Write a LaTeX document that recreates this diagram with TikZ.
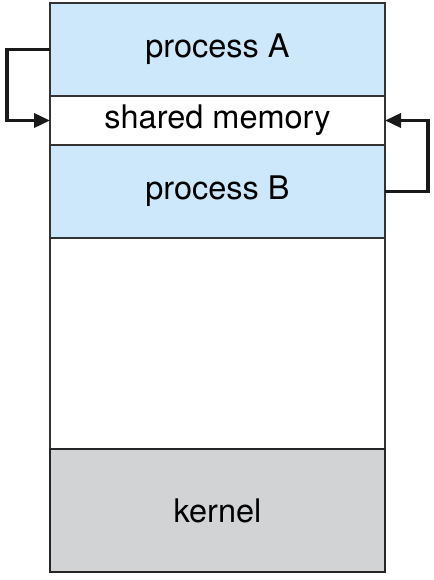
\documentclass[tikz,border=0pt]{standalone}
\usepackage{fontspec}
\setmainfont{TeX Gyre Heros}
\usetikzlibrary{arrows.meta, positioning}
\definecolor{procblue}{RGB}{205,232,250}
\definecolor{kernelgray}{RGB}{210,211,213}

\begin{document}
\begin{tikzpicture}[x=1pt, y=-1pt,
    region/.style={draw=black!80, line width=1.2pt, minimum width=335pt,
      inner sep=0pt, outer sep=0pt, font=\fontsize{32.5}{36}\selectfont},
    conn/.style={line width=3.6pt, draw=black!90, -{Triangle[length=16pt,width=14pt]}}]
  \useasboundingbox (0,0) rectangle (433,580);

  % Nodes
  \node[region, fill=procblue, minimum height=93pt, anchor=north west] (procA) at (50,3) {process A};
  \node[region, minimum height=49pt, below=0pt of procA] (shm) {shared memory};
  \node[region, fill=procblue, minimum height=93pt, below=0pt of shm] (procB) {process B};
  \node[region, minimum height=211pt, below=0pt of procB] (free) {};
  \node[region, fill=kernelgray, draw=black!85, line width=2pt, minimum height=123pt, below=0pt of free] (kernel) {kernel};

  % Edges
  \draw[conn] (procA.west) -- ++(-43,0) |- (shm.west);
  \draw[conn] (procB.east) -- ++(43,0) |- (shm.east);

\end{tikzpicture}
\end{document}
